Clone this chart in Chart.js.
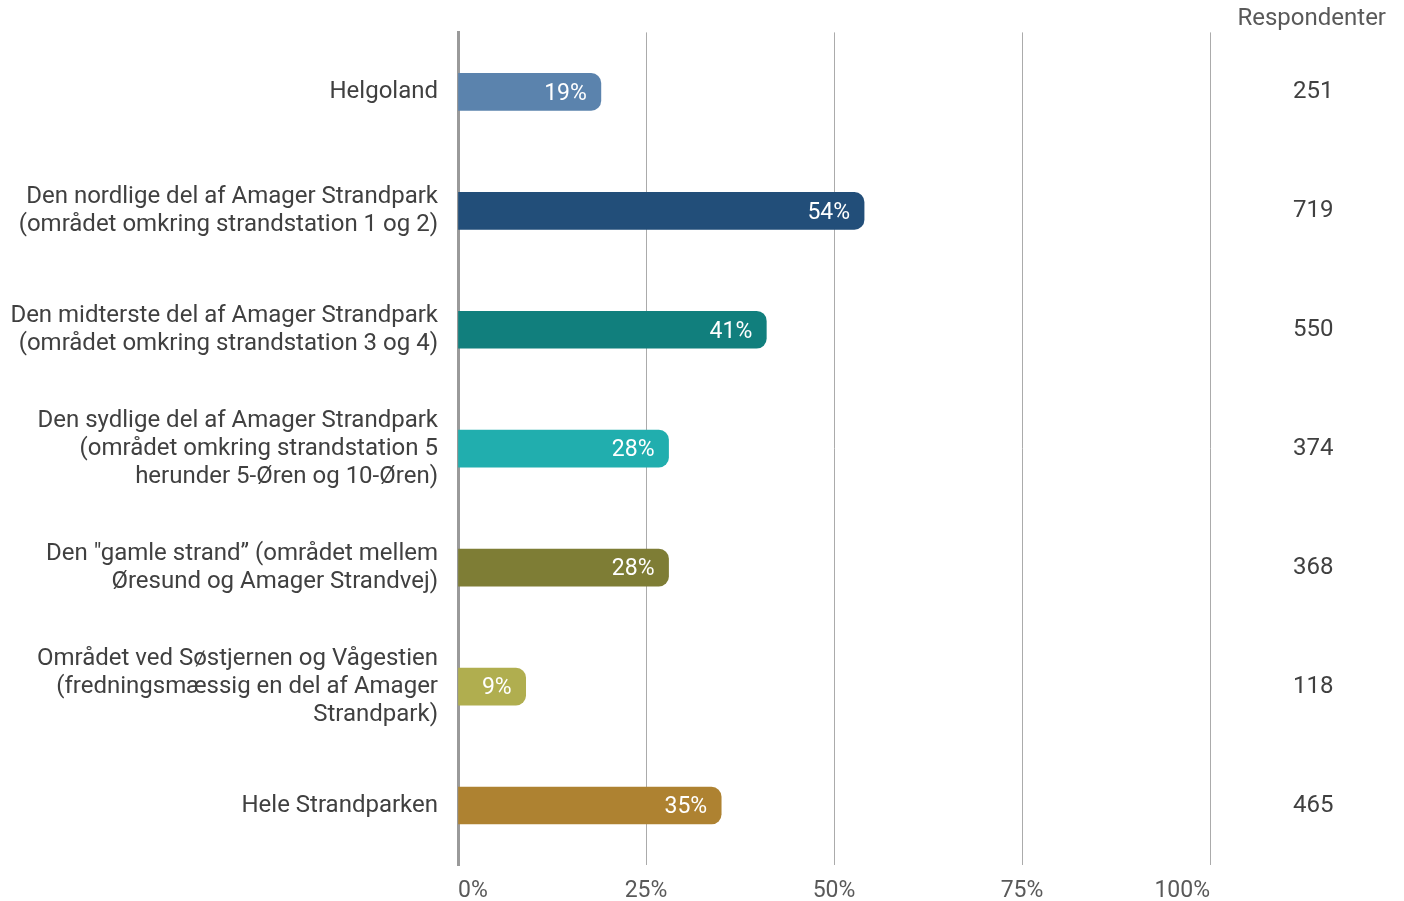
<!DOCTYPE html>
<html lang="da">
<head>
    <meta charset="UTF-8">
    <title>Respondenter pr. område</title>
    <script src="https://cdn.jsdelivr.net/npm/chart.js"></script>
    <style>
        html, body { margin: 0; padding: 0; background: #ffffff; }
        .chart-container { width: 1404px; height: 901px; }
    </style>
</head>
<body>
    <div class="chart-container">
        <canvas id="omraadeChart"></canvas>
    </div>

    <script>
    // data
    const categories = [
        'Helgoland',
        ['Den nordlige del af Amager Strandpark', '(området omkring strandstation 1 og 2)'],
        ['Den midterste del af Amager Strandpark', '(området omkring strandstation 3 og 4)'],
        ['Den sydlige del af Amager Strandpark', '(området omkring strandstation 5', 'herunder 5-Øren og 10-Øren)'],
        ['Den "gamle strand” (området mellem', 'Øresund og Amager Strandvej)'],
        ['Området ved Søstjernen og Vågestien', '(fredningsmæssig en del af Amager', 'Strandpark)'],
        'Hele Strandparken'
    ];
    const percentages = [19, 54, 41, 28, 28, 9, 35];
    const respondents = [251, 719, 550, 374, 368, 118, 465];
    const xTicks = [0, 25, 50, 75, 100];

    const barColors = ['#5b83ad', '#224e79', '#117f7d', '#21aeae', '#7e7d35', '#b0ae4f', '#ae8231'];

    const barLabels = {
        id: 'barLabels',
        afterDatasetsDraw(chart) {
            const ctx = chart.ctx;
            const meta = chart.getDatasetMeta(0);
            ctx.save();
            ctx.font = '23px Roboto';
            ctx.fillStyle = '#ffffff';
            ctx.textAlign = 'right';
            ctx.textBaseline = 'middle';
            meta.data.forEach(function(bar, i) {
                ctx.fillText(percentages[i] + '%', bar.x - 14, bar.y + 2);
            });
            ctx.restore();
        }
    };

    // no extra room above/below the y axes, the bars use the whole height
    function noVerticalPadding(scale) {
        scale.paddingTop = 0;
        scale.paddingBottom = 0;
    }

    const chartElem = document.getElementById('omraadeChart');
    new Chart(chartElem, {
        type: 'bar',
        data: {
            labels: categories,
            datasets: [{
                data: percentages,
                backgroundColor: barColors,
                borderRadius: 10,
                borderSkipped: 'start',
                barThickness: 37,
                yAxisID: 'y'
            }]
        },
        plugins: [barLabels],
        options: {
            indexAxis: 'y',
            responsive: true,
            maintainAspectRatio: false,
            animation: false,
            layout: {
                padding: { top: 0, right: 18, bottom: 0, left: 0 }
            },
            plugins: {
                legend: { display: false },
                tooltip: { enabled: false },
                title: {
                    display: true,
                    text: 'Respondenter',
                    align: 'end',
                    color: '#595959',
                    font: { family: 'Roboto', size: 24, weight: 'normal', lineHeight: 1.1 },
                    padding: { top: 6, bottom: 0 }
                }
            },
            scales: {
                x: {
                    min: 0,
                    max: 100,
                    afterBuildTicks: function(scale) {
                        scale.ticks = xTicks.map(function(v) { return { value: v }; });
                    },
                    afterFit: function(scale) { scale.height = 36; },
                    grid: {
                        color: '#ababab',
                        lineWidth: 1,
                        drawTicks: false
                    },
                    border: { display: false },
                    ticks: {
                        align: 'inner',
                        padding: 12,
                        color: '#595959',
                        font: { family: 'Roboto', size: 23 },
                        callback: function(v) { return v + '%'; }
                    }
                },
                y: {
                    position: 'left',
                    afterFit: function(scale) {
                        scale.width = 458;
                        noVerticalPadding(scale);
                    },
                    grid: { display: false, drawTicks: false },
                    border: { display: true, color: '#9a9a9a', width: 3 },
                    ticks: {
                        padding: 20,
                        color: '#404040',
                        font: { family: 'Roboto', size: 24, lineHeight: 1.17 }
                    }
                },
                y2: {
                    type: 'category',
                    position: 'right',
                    labels: respondents.map(String),
                    offset: true,
                    afterFit: function(scale) {
                        scale.width = 176;
                        noVerticalPadding(scale);
                    },
                    grid: { display: false, drawTicks: false },
                    border: { display: false },
                    ticks: {
                        crossAlign: 'center',
                        padding: 83,
                        color: '#404040',
                        font: { family: 'Roboto', size: 24 }
                    }
                }
            }
        }
    });
    </script>
</body>
</html>
